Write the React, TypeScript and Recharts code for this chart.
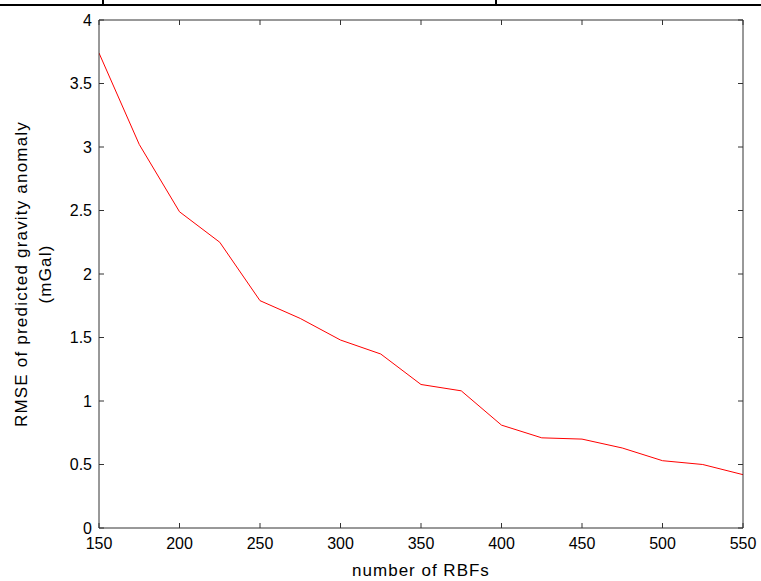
import React from 'react';
import { LineChart, Line, XAxis, YAxis, Label } from 'recharts';

// number of RBFs (x) and RMSE of predicted gravity anomaly in mGal (y)
const rbfCounts = [150, 175, 200, 225, 250, 275, 300, 325, 350, 375, 400, 425, 450, 475, 500, 525, 550];
const rmseValues = [3.74, 3.02, 2.49, 2.25, 1.79, 1.65, 1.48, 1.37, 1.13, 1.08, 0.81, 0.71, 0.7, 0.63, 0.53, 0.5, 0.42];

const xTicks = [150, 200, 250, 300, 350, 400, 450, 500, 550];
const yTicks = [0, 0.5, 1, 1.5, 2, 2.5, 3, 3.5, 4];

const data = rbfCounts.map((n, i) => ({ n, rmse: rmseValues[i] }));

const FONT = '"Liberation Sans", Arial, Helvetica, sans-serif';
const AXIS_COLOR = '#333';
const tickStyle = { fontSize: 16, fill: '#000', fontFamily: FONT };

const YTitle = (props: any) => {
  const { viewBox } = props;
  const cy = viewBox.y + viewBox.height / 2;
  const x1 = viewBox.x + 27;
  const x2 = viewBox.x + 51;
  const common = { textAnchor: 'middle' as const, fontSize: 17, fontFamily: FONT, fill: '#000', letterSpacing: 1.2 };
  return (
    <g>
      <text x={x1} y={cy} transform={`rotate(-90 ${x1} ${cy})`} {...common}>
        RMSE of predicted gravity anomaly
      </text>
      <text x={x2} y={cy} transform={`rotate(-90 ${x2} ${cy})`} {...common}>
        (mGal)
      </text>
    </g>
  );
};

const App = () => {
  return (
    <div style={{ position: 'absolute', left: 0, top: 0, width: 761, height: 581, background: '#fff' }}>
      {/* bits of the table border above the figure */}
      <div style={{ position: 'absolute', left: 0, top: 4, width: 761, height: 2, background: '#000' }} />
      <div style={{ position: 'absolute', left: 102, top: 0, width: 2, height: 5, background: '#000' }} />
      <div style={{ position: 'absolute', left: 495, top: 0, width: 2, height: 5, background: '#000' }} />

      <LineChart width={761} height={581} data={data} margin={{ top: 0, right: 0, bottom: 0, left: 0 }}>
        <XAxis
          xAxisId="bottom"
          dataKey="n"
          type="number"
          domain={[150, 550]}
          ticks={xTicks}
          orientation="bottom"
          height={53}
          tickSize={-5}
          tickMargin={15}
          stroke={AXIS_COLOR}
          tick={tickStyle}
          allowDataOverflow
        >
          <Label
            value="number of RBFs"
            position="insideBottom"
            offset={5}
            style={{ fontSize: 17, fontFamily: FONT, fill: '#000', letterSpacing: 1 }}
          />
        </XAxis>
        <XAxis
          xAxisId="top"
          dataKey="n"
          type="number"
          domain={[150, 550]}
          ticks={xTicks}
          orientation="top"
          height={20}
          tickSize={-5}
          tickFormatter={() => ''}
          stroke={AXIS_COLOR}
          allowDataOverflow
        />
        <YAxis
          yAxisId="left"
          type="number"
          domain={[0, 4]}
          ticks={yTicks}
          orientation="left"
          width={99}
          tickSize={-5}
          tickMargin={12}
          stroke={AXIS_COLOR}
          tick={tickStyle}
          allowDataOverflow
        >
          <Label content={YTitle} />
        </YAxis>
        <YAxis
          yAxisId="right"
          type="number"
          domain={[0, 4]}
          ticks={yTicks}
          orientation="right"
          width={18}
          tickSize={-5}
          tickFormatter={() => ''}
          stroke={AXIS_COLOR}
          allowDataOverflow
        />
        <Line
          xAxisId="bottom"
          yAxisId="left"
          dataKey="rmse"
          type="linear"
          stroke="#ff0000"
          strokeWidth={1}
          dot={false}
          isAnimationActive={false}
        />
      </LineChart>
    </div>
  );
};

export default App;
